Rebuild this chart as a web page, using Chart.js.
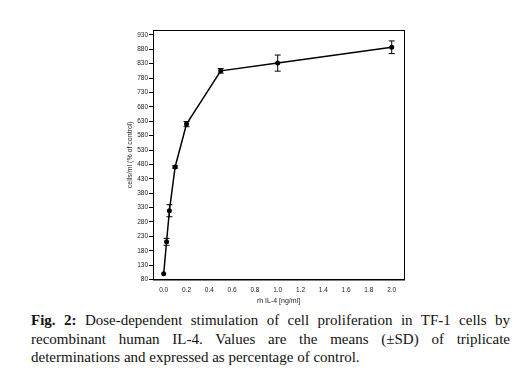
<!DOCTYPE html>
<html>
<head>
<meta charset="utf-8">
<script src="https://cdn.jsdelivr.net/npm/chart.js@4/dist/chart.umd.min.js"></script>
<style>
  html, body { margin: 0; padding: 0; background: #fff; }
  #wrap { position: relative; width: 519px; height: 378px; overflow: hidden; }
  #chart { position: absolute; left: 0; top: 0; }
  #caption {
    position: absolute; left: 31px; top: 311px; width: 479px;
    font-family: "Liberation Serif", "Times New Roman", serif;
    font-size: 15px; line-height: 18.5px; color: #111;
  }
  #caption div { text-align: justify; text-align-last: justify; white-space: nowrap; }
  #caption div.last { text-align-last: left; }
</style>
</head>
<body>
<div id="wrap">
  <canvas id="chart" width="519" height="310"></canvas>
  <div id="caption">
    <div><b>Fig. 2:</b> Dose-dependent stimulation of cell proliferation in TF-1 cells by</div>
    <div>recombinant human IL-4. Values are the means (±SD) of triplicate</div>
    <div class="last">determinations and expressed as percentage of control.</div>
  </div>
</div>
<script>
// rh IL-4 dose (ng/ml)
const doses = [0, 0.025, 0.05, 0.1, 0.2, 0.5, 1.0, 2.0];
// cells/ml as % of control, and SD
const means = [100, 211, 319, 471, 620, 805, 832, 887];
const sds = [0, 12, 21, 4, 9, 8, 28, 22];

const xTicks = [0, 0.2, 0.4, 0.6, 0.8, 1.0, 1.2, 1.4, 1.6, 1.8, 2.0];
const yTicks = [80, 130, 180, 230, 280, 330, 380, 430, 480, 530, 580, 630, 680, 730, 780, 830, 880, 930];

const tickFont = { family: "Arial, 'Liberation Sans', sans-serif", size: 6.5 };
const titleFont = { family: "Arial, 'Liberation Sans', sans-serif", size: 7 };

// error bars + frame
const errorBars = {
  id: "errorBars",
  afterDatasetsDraw(chart) {
    const { ctx, scales: { x, y }, chartArea } = chart;
    ctx.save();
    ctx.strokeStyle = "#000";
    ctx.lineWidth = 1;
    doses.forEach((d, i) => {
      if (!sds[i]) return;
      const px = x.getPixelForValue(d);
      const top = y.getPixelForValue(means[i] + sds[i]);
      const bot = y.getPixelForValue(means[i] - sds[i]);
      ctx.beginPath();
      ctx.moveTo(px, top); ctx.lineTo(px, bot);
      ctx.moveTo(px - 3, top); ctx.lineTo(px + 3, top);
      ctx.moveTo(px - 3, bot); ctx.lineTo(px + 3, bot);
      ctx.stroke();
    });
    ctx.strokeRect(chartArea.left + 0.5, chartArea.top + 0.5,
      chartArea.right - chartArea.left, chartArea.bottom - chartArea.top);
    ctx.restore();
  }
};

new Chart(document.getElementById("chart"), {
  type: "scatter",
  data: {
    datasets: [{
      data: doses.map((d, i) => ({ x: d, y: means[i] })),
      showLine: true,
      tension: 0,
      borderColor: "#000",
      borderWidth: 1.5,
      backgroundColor: "#000",
      pointRadius: 2.5,
      pointBorderWidth: 0
    }]
  },
  options: {
    responsive: false,
    animation: false,
    devicePixelRatio: 1,
    layout: { padding: { left: 126, top: 30, right: 115, bottom: 5 } },
    plugins: { legend: { display: false }, tooltip: { enabled: false } },
    scales: {
      x: {
        type: "linear",
        min: -0.094,
        max: 2.108,
        afterBuildTicks: s => { s.ticks = xTicks.map(v => ({ value: v })); },
        afterFit: s => { s.height = 25.5; },
        grid: { drawOnChartArea: false, drawTicks: false },
        border: { color: "#000", width: 1 },
        ticks: { color: "#222", font: tickFont, padding: 7, maxRotation: 0, callback: v => v.toFixed(1) },
        title: { display: true, text: "rh IL-4 [ng/ml]", color: "#222", font: titleFont, padding: 0 }
      },
      y: {
        min: 80,
        max: 947,
        afterBuildTicks: s => { s.ticks = yTicks.map(v => ({ value: v })); },
        afterFit: s => { s.width = 27; },
        grid: { drawOnChartArea: false, drawTicks: true, tickLength: 4, color: "#000" },
        border: { color: "#000", width: 1 },
        ticks: { color: "#222", font: tickFont, padding: 1 },
        title: { display: true, text: "cells/ml (% of control)", color: "#222", font: titleFont, padding: 0 }
      }
    }
  },
  plugins: [errorBars]
});
</script>
</body>
</html>
